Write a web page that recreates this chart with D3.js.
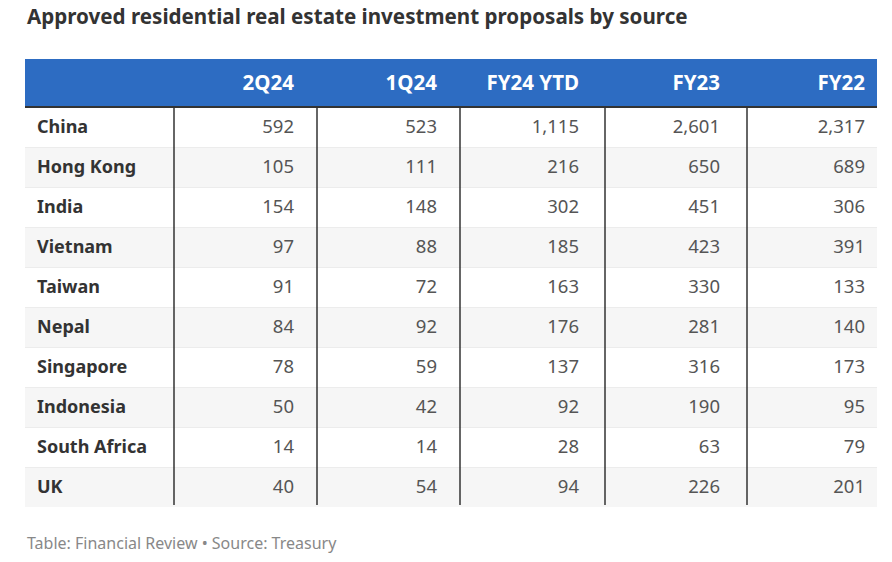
<!DOCTYPE html>
<html>
<head>
<meta charset="utf-8">
<script src="https://cdn.jsdelivr.net/npm/d3@7"></script>
<style>
  html, body { margin: 0; padding: 0; background: #fff; }
  svg { display: block; font-family: "Noto Sans", "Open Sans", sans-serif; }
</style>
</head>
<body>
<svg id="chart" width="892" height="562"></svg>
<script>
// ---- data ----
const title = "Approved residential real estate investment proposals by source";
const footer = "Table: Financial Review \u2022 Source: Treasury";
const columns = ["2Q24", "1Q24", "FY24 YTD", "FY23", "FY22"];
const countries = ["China", "Hong Kong", "India", "Vietnam", "Taiwan", "Nepal", "Singapore", "Indonesia", "South Africa", "UK"];
const q2_24 = [592, 105, 154, 97, 91, 84, 78, 50, 14, 40];
const q1_24 = [523, 111, 148, 88, 72, 92, 59, 42, 14, 54];
const fy24ytd = [1115, 216, 302, 185, 163, 176, 137, 92, 28, 94];
const fy23 = [2601, 650, 451, 423, 330, 281, 316, 190, 63, 226];
const fy22 = [2317, 689, 306, 391, 133, 140, 173, 95, 79, 201];
const series = [q2_24, q1_24, fy24ytd, fy23, fy22];

// ---- layout ----
const svg = d3.select("#chart");
const tableLeft = 25, tableRight = 877;
const headerTop = 59, headerBottom = 107;
const rowH = 40;
const colEdges = [174, 317, 460, 605, 747]; // left separators of value columns
const textRight = [294, 437, 579, 720, 865];
const fmt = d3.format(",");

const y = d3.scaleBand()
  .domain(countries)
  .range([headerBottom, headerBottom + rowH * countries.length]);

// title
svg.append("text")
  .attr("x", 27).attr("y", 24)
  .attr("font-size", 20.6).attr("font-weight", 700)
  .attr("fill", "#333")
  .text(title);

// header band
svg.append("rect")
  .attr("x", tableLeft).attr("y", headerTop)
  .attr("width", tableRight - tableLeft).attr("height", headerBottom - headerTop)
  .attr("fill", "#2d6cc2");

svg.selectAll("text.hdr").data(columns).join("text")
  .attr("class", "hdr")
  .attr("x", (d, i) => textRight[i])
  .attr("y", (headerTop + headerBottom) / 2)
  .attr("dy", "0.35em")
  .attr("text-anchor", "end")
  .attr("font-size", 20.5).attr("font-weight", 700)
  .attr("fill", "#fff")
  .text(d => d);

// row stripes
svg.selectAll("rect.row").data(countries).join("rect")
  .attr("class", "row")
  .attr("x", tableLeft).attr("y", d => y(d))
  .attr("width", tableRight - tableLeft).attr("height", y.bandwidth())
  .attr("fill", (d, i) => i % 2 ? "#f6f6f6" : "#fff");

// faint row dividers
svg.selectAll("line.rowline").data(countries.slice(1)).join("line")
  .attr("class", "rowline")
  .attr("x1", tableLeft).attr("x2", tableRight)
  .attr("y1", d => y(d) + 0.5).attr("y2", d => y(d) + 0.5)
  .attr("stroke", "#ececec").attr("stroke-width", 1);

// header bottom line
svg.append("line")
  .attr("x1", tableLeft).attr("x2", tableRight)
  .attr("y1", headerBottom).attr("y2", headerBottom)
  .attr("stroke", "#333").attr("stroke-width", 2);

// vertical separators
svg.selectAll("line.sep").data(colEdges).join("line")
  .attr("class", "sep")
  .attr("x1", d => d).attr("x2", d => d)
  .attr("y1", headerBottom).attr("y2", y.range()[1] - 2)
  .attr("stroke", "#333").attr("stroke-width", 1.5);

// row labels
svg.selectAll("text.lbl").data(countries).join("text")
  .attr("class", "lbl")
  .attr("x", 37).attr("y", d => y(d) + y.bandwidth() / 2)
  .attr("dy", "0.35em")
  .attr("font-size", 18).attr("font-weight", 700)
  .attr("fill", "#333")
  .text(d => d);

// values
series.forEach((vals, ci) => {
  svg.selectAll("text.v" + ci).data(vals).join("text")
    .attr("class", "v" + ci)
    .attr("x", textRight[ci])
    .attr("y", (d, i) => y(countries[i]) + y.bandwidth() / 2)
    .attr("dy", "0.35em")
    .attr("text-anchor", "end")
    .attr("font-size", 18.5)
    .attr("fill", "#555")
    .text(d => fmt(d));
});

// footer
svg.append("text")
  .attr("x", 27).attr("y", 549)
  .attr("font-size", 16)
  .attr("fill", "#888")
  .text(footer);
</script>
</body>
</html>
